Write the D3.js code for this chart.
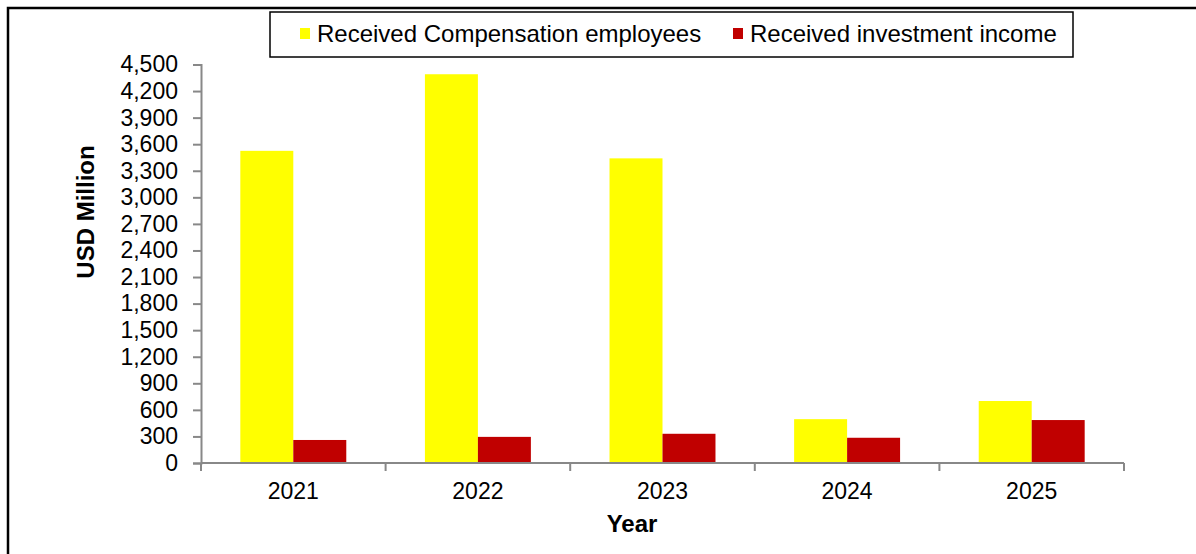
<!DOCTYPE html>
<html>
<head>
<meta charset="utf-8">
<script src="https://cdn.jsdelivr.net/npm/d3@7"></script>
<style>
  html, body { margin: 0; padding: 0; background: #fff; }
  svg { display: block; font-family: Arial, "Liberation Sans", sans-serif; }
</style>
</head>
<body>
<svg id="chart" width="1196" height="554"></svg>
<script>
const years = ["2021", "2022", "2023", "2024", "2025"];
const seriesNames = ["Received Compensation employees", "Received investment income"];
const compensation = [3525, 4390, 3440, 495, 700];
const investment = [260, 295, 330, 285, 485];
const seriesColors = ["#FFFF00", "#C00000"];
const yTicks = [0, 300, 600, 900, 1200, 1500, 1800, 2100, 2400, 2700, 3000, 3300, 3600, 3900, 4200, 4500];

const svg = d3.select("#chart");
const W = 1196, H = 554;
const plot = { left: 201, right: 1124, top: 64.5, bottom: 463 };

// outer frame (right/bottom edges lie outside the canvas)
svg.append("rect")
  .attr("x", 8).attr("y", 8)
  .attr("width", W + 20).attr("height", H + 20)
  .attr("fill", "none").attr("stroke", "#000").attr("stroke-width", 2.5);

const x0 = d3.scaleBand().domain(years)
  .range([plot.left, plot.right])
  .paddingInner(0.426).paddingOuter(0.213);
const x1 = d3.scaleBand().domain([0, 1]).range([0, x0.bandwidth()]).padding(0);
const y = d3.scaleLinear().domain([0, 4500]).range([plot.bottom, plot.top]);

const data = years.map((yr, i) => ({ year: yr, values: [compensation[i], investment[i]] }));

// bars
const groups = svg.append("g").selectAll("g").data(data).join("g")
  .attr("transform", d => `translate(${x0(d.year)},0)`);
groups.selectAll("rect").data(d => d.values.map((v, k) => ({ v, k }))).join("rect")
  .attr("x", d => x1(d.k))
  .attr("width", x1.bandwidth())
  .attr("y", d => y(d.v))
  .attr("height", d => y(0) - y(d.v))
  .attr("fill", d => seriesColors[d.k]);

// y axis
const yAxis = svg.append("g")
  .attr("transform", `translate(${plot.left},0)`)
  .call(d3.axisLeft(y).tickValues(yTicks).tickFormat(d3.format(",")).tickSize(8).tickPadding(15));
yAxis.select(".domain").attr("stroke", "#888").attr("stroke-width", 2);
yAxis.selectAll(".tick line").attr("stroke", "#888").attr("stroke-width", 2);
yAxis.selectAll(".tick text").attr("font-size", 23).attr("fill", "#000")
  .attr("font-family", "Arial, 'Liberation Sans', sans-serif");

// x axis: line + ticks at band boundaries
const xAxisG = svg.append("g");
xAxisG.append("line")
  .attr("x1", plot.left).attr("x2", plot.right)
  .attr("y1", plot.bottom).attr("y2", plot.bottom)
  .attr("stroke", "#888").attr("stroke-width", 2);
const bounds = years.map(yr => x0(yr) - x0.step() * x0.paddingOuter()).concat([plot.right]);
xAxisG.selectAll("line.tk").data(bounds).join("line").attr("class", "tk")
  .attr("x1", d => d).attr("x2", d => d)
  .attr("y1", plot.bottom).attr("y2", plot.bottom + 8)
  .attr("stroke", "#888").attr("stroke-width", 2);
xAxisG.selectAll("text").data(years).join("text")
  .attr("x", d => x0(d) + x0.bandwidth() / 2)
  .attr("y", 499)
  .attr("text-anchor", "middle")
  .attr("font-size", 23)
  .text(d => d);

// axis titles
svg.append("text")
  .attr("transform", "translate(94,212) rotate(-90)")
  .attr("text-anchor", "middle")
  .attr("font-size", 24).attr("font-weight", "bold")
  .text("USD Million");
svg.append("text")
  .attr("x", 632).attr("y", 532)
  .attr("text-anchor", "middle")
  .attr("font-size", 24).attr("font-weight", "bold")
  .text("Year");

// legend
const leg = svg.append("g");
leg.append("rect")
  .attr("x", 270).attr("y", 12).attr("width", 803).attr("height", 45)
  .attr("fill", "#fff").attr("stroke", "#000").attr("stroke-width", 1.5);
const legX = [300, 733];
seriesNames.forEach((name, k) => {
  leg.append("rect")
    .attr("x", legX[k]).attr("y", 28).attr("width", 10).attr("height", 11)
    .attr("fill", seriesColors[k]);
  leg.append("text")
    .attr("x", legX[k] + 17).attr("y", 42)
    .attr("font-size", 24)
    .text(name);
});
</script>
</body>
</html>
